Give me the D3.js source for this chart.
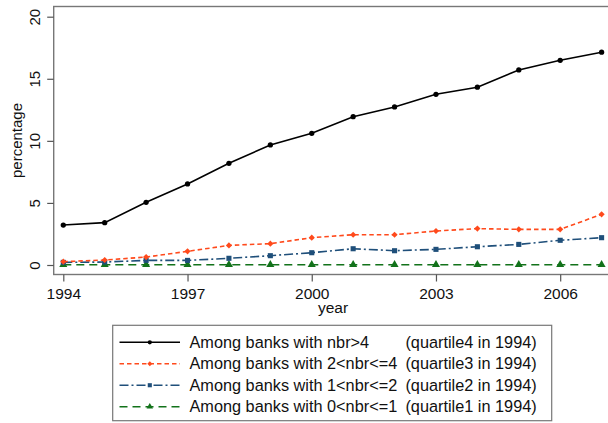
<!DOCTYPE html>
<html>
<head>
<meta charset="utf-8">
<script src="https://cdn.jsdelivr.net/npm/d3@7/dist/d3.min.js"></script>
<style>
  html, body { margin: 0; padding: 0; background: #fff; }
  svg { display: block; font-family: "Liberation Sans", Arial, sans-serif; }
</style>
</head>
<body>
<svg id="chart" width="608" height="423"></svg>
<script>
// Share of banks (percentage) by year, grouped by 1994 quartile of nbr
const years = [1994, 1995, 1996, 1997, 1998, 1999, 2000, 2001, 2002, 2003, 2004, 2005, 2006, 2007];
const quartile4 = [3.22, 3.41, 5.05, 6.53, 8.19, 9.67, 10.61, 11.95, 12.73, 13.75, 14.32, 15.71, 16.49, 17.14];
const quartile3 = [0.27, 0.40, 0.64, 1.10, 1.58, 1.72, 2.20, 2.44, 2.44, 2.74, 2.93, 2.87, 2.87, 4.08];
const quartile2 = [0.21, 0.24, 0.37, 0.37, 0.54, 0.75, 0.99, 1.31, 1.15, 1.26, 1.47, 1.66, 1.99, 2.20];
const quartile1 = [0.02, 0.02, 0.02, 0.02, 0.02, 0.02, 0.02, 0.02, 0.02, 0.02, 0.02, 0.02, 0.02, 0.02];
const xTicks = [1994, 1997, 2000, 2003, 2006];
const yTicks = [0, 5, 10, 15, 20];
const labels = [
  "Among banks with nbr>4",
  "Among banks with 2<nbr<=4",
  "Among banks with 1<nbr<=2",
  "Among banks with 0<nbr<=1"
];
const notes = [
  "(quartile4 in 1994)",
  "(quartile3 in 1994)",
  "(quartile2 in 1994)",
  "(quartile1 in 1994)"
];

const series = [
  { values: quartile4, color: "#000000", dash: null, marker: "circle" },
  { values: quartile3, color: "#ff4a1c", dash: "4.5,3", marker: "diamond" },
  { values: quartile2, color: "#1f4f7a", dash: "9,3,2,3", marker: "square" },
  { values: quartile1, color: "#12721a", dash: "8,5", marker: "triangle" }
];

const svg = d3.select("#chart");

const x = d3.scaleLinear().domain([1994, 2007]).range([63.3, 601.6]);
const y = d3.scaleLinear().domain([0, 20]).range([265, 16.7]);

const frame = { left: 53.7, top: 6.5, right: 612, bottom: 274.5 };

// plot region outline
svg.append("rect")
  .attr("x", frame.left).attr("y", frame.top)
  .attr("width", frame.right - frame.left).attr("height", frame.bottom - frame.top)
  .attr("fill", "none").attr("stroke", "#777").attr("stroke-width", 1.4);

// y axis
const yAxis = svg.append("g")
  .attr("transform", `translate(${frame.left},0)`)
  .call(d3.axisLeft(y).tickValues(yTicks).tickSize(6.5).tickSizeOuter(0).tickFormat(d3.format("d")));
yAxis.select(".domain").remove();
yAxis.selectAll(".tick line").attr("stroke", "#555").attr("stroke-width", 1.2);
yAxis.selectAll(".tick text")
  .attr("x", null).attr("dy", null)
  .attr("transform", "translate(-13.5,0) rotate(-90)")
  .attr("text-anchor", "middle")
  .attr("font-size", 15).attr("fill", "#111")
  .style("font-family", "Liberation Sans, Arial, sans-serif");

// x axis
const xAxis = svg.append("g")
  .attr("transform", `translate(0,${frame.bottom})`)
  .call(d3.axisBottom(x).tickValues(xTicks).tickSize(7).tickSizeOuter(0).tickFormat(d3.format("d")));
xAxis.select(".domain").remove();
xAxis.selectAll(".tick line").attr("stroke", "#555").attr("stroke-width", 1.2);
xAxis.selectAll(".tick text")
  .attr("y", 24).attr("dy", null)
  .attr("font-size", 15.5).attr("fill", "#111")
  .style("font-family", "Liberation Sans, Arial, sans-serif");

// axis titles
svg.append("text")
  .attr("transform", "translate(22,140.5) rotate(-90)")
  .attr("text-anchor", "middle").attr("font-size", 15).attr("fill", "#111")
  .text("percentage");
svg.append("text")
  .attr("x", 333).attr("y", 312.5)
  .attr("text-anchor", "middle").attr("font-size", 15.5).attr("fill", "#111")
  .text("year");

// marker shapes; the diamond is a square turned 45 degrees
const markerDefs = {
  circle: { type: d3.symbolCircle, size: 22, rot: 0 },
  diamond: { type: d3.symbolSquare, size: 19, rot: 45 },
  square: { type: d3.symbolSquare, size: 26, rot: 0 },
  triangle: { type: d3.symbolTriangle, size: 28, rot: 0 }
};
const markerPath = (name, scale) => {
  const m = markerDefs[name];
  return d3.symbol().type(m.type).size(m.size * scale)();
};

const line = d3.line().x((d, i) => x(years[i])).y(d => y(d));

const plot = svg.append("g");
// draw from bottom series to top so the black line sits above
series.slice().reverse().forEach(s => {
  plot.append("path")
    .datum(s.values)
    .attr("d", line)
    .attr("fill", "none")
    .attr("stroke", s.color)
    .attr("stroke-width", 1.6)
    .attr("stroke-dasharray", s.dash);
  plot.selectAll(null)
    .data(s.values)
    .enter().append("path")
    .attr("d", markerPath(s.marker, 1))
    .attr("transform", (d, i) => `translate(${x(years[i])},${y(d)}) rotate(${markerDefs[s.marker].rot})`)
    .attr("fill", s.color);
});

// legend
const lg = svg.append("g");
lg.append("rect")
  .attr("x", 112.7).attr("y", 325.3).attr("width", 439).attr("height", 95.4)
  .attr("fill", "#fff").attr("stroke", "#777").attr("stroke-width", 1.2);

const rowY = d3.scalePoint().domain(d3.range(4)).range([342.3, 406.7]);
series.forEach((s, i) => {
  const cy = rowY(i);
  lg.append("line")
    .attr("x1", 119.5).attr("x2", 180).attr("y1", cy).attr("y2", cy)
    .attr("stroke", s.color).attr("stroke-width", 1.4)
    .attr("stroke-dasharray", s.dash);
  lg.append("path")
    .attr("d", markerPath(s.marker, 0.65))
    .attr("transform", `translate(149.8,${cy}) rotate(${markerDefs[s.marker].rot})`)
    .attr("fill", s.color);
  lg.append("text")
    .attr("x", 189.5).attr("y", cy + 5.5)
    .attr("font-size", 16.3).attr("fill", "#111")
    .text(labels[i]);
  lg.append("text")
    .attr("x", 536.7).attr("y", cy + 5.5)
    .attr("text-anchor", "end")
    .attr("font-size", 16.3).attr("fill", "#111")
    .text(notes[i]);
});
</script>
</body>
</html>
